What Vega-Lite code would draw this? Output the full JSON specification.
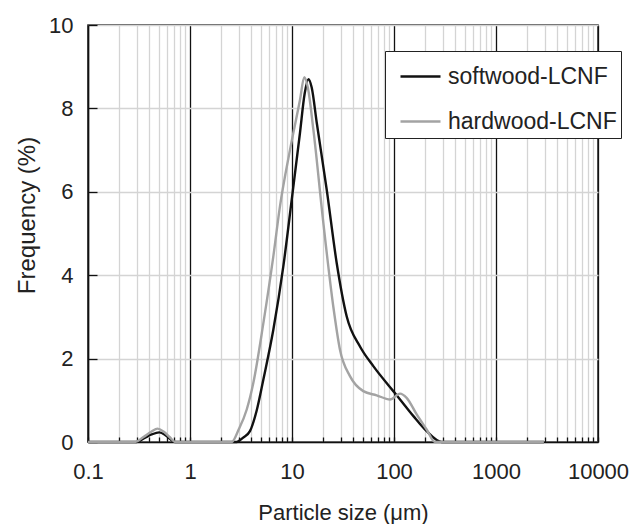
{
  "$schema": "https://vega.github.io/schema/vega-lite/v6.json",
  "width": 510,
  "height": 417,
  "autosize": {"type": "none"},
  "padding": {"left": 88, "top": 25, "right": 44, "bottom": 82},
  "background": "white",
  "config": {
    "font": "Liberation Sans",
    "view": {"stroke": "#222", "strokeWidth": 1.5},
    "axis": {
      "labelFontSize": 22,
      "labelColor": "#222",
      "titleFontSize": 22,
      "titleFontWeight": "normal",
      "titleColor": "#222",
      "domainColor": "#111",
      "domainWidth": 1.5,
      "tickColor": "#111",
      "tickWidth": 1.3,
      "gridWidth": 1.3
    }
  },
  "data": {
    "values": [
      {"sample": "softwood-LCNF", "size": 0.1, "freq": 0},
      {"sample": "softwood-LCNF", "size": 0.29, "freq": 0},
      {"sample": "softwood-LCNF", "size": 0.30, "freq": 0},
      {"sample": "softwood-LCNF", "size": 0.36, "freq": 0.1},
      {"sample": "softwood-LCNF", "size": 0.42, "freq": 0.18},
      {"sample": "softwood-LCNF", "size": 0.5, "freq": 0.23},
      {"sample": "softwood-LCNF", "size": 0.57, "freq": 0.17},
      {"sample": "softwood-LCNF", "size": 0.64, "freq": 0.07},
      {"sample": "softwood-LCNF", "size": 0.71, "freq": 0},
      {"sample": "softwood-LCNF", "size": 2.87, "freq": 0},
      {"sample": "softwood-LCNF", "size": 3.3, "freq": 0.1},
      {"sample": "softwood-LCNF", "size": 3.87, "freq": 0.26},
      {"sample": "softwood-LCNF", "size": 4.5, "freq": 0.75},
      {"sample": "softwood-LCNF", "size": 5.24, "freq": 1.5},
      {"sample": "softwood-LCNF", "size": 6.56, "freq": 2.69},
      {"sample": "softwood-LCNF", "size": 8.22, "freq": 4.21},
      {"sample": "softwood-LCNF", "size": 9.94, "freq": 5.81},
      {"sample": "softwood-LCNF", "size": 11.97, "freq": 7.41},
      {"sample": "softwood-LCNF", "size": 13.3, "freq": 8.35},
      {"sample": "softwood-LCNF", "size": 14.5, "freq": 8.7},
      {"sample": "softwood-LCNF", "size": 15.6, "freq": 8.5},
      {"sample": "softwood-LCNF", "size": 17.5, "freq": 7.65},
      {"sample": "softwood-LCNF", "size": 21.9, "freq": 6.05},
      {"sample": "softwood-LCNF", "size": 27.4, "freq": 4.3},
      {"sample": "softwood-LCNF", "size": 34.4, "freq": 3.01},
      {"sample": "softwood-LCNF", "size": 46.4, "freq": 2.29},
      {"sample": "softwood-LCNF", "size": 62.7, "freq": 1.82},
      {"sample": "softwood-LCNF", "size": 98.4, "freq": 1.22},
      {"sample": "softwood-LCNF", "size": 114.6, "freq": 1.02},
      {"sample": "softwood-LCNF", "size": 155, "freq": 0.62},
      {"sample": "softwood-LCNF", "size": 209, "freq": 0.26},
      {"sample": "softwood-LCNF", "size": 294, "freq": 0},
      {"sample": "softwood-LCNF", "size": 2950, "freq": 0},
      {"sample": "hardwood-LCNF", "size": 0.1, "freq": 0},
      {"sample": "hardwood-LCNF", "size": 0.29, "freq": 0},
      {"sample": "hardwood-LCNF", "size": 0.35, "freq": 0.12},
      {"sample": "hardwood-LCNF", "size": 0.42, "freq": 0.25},
      {"sample": "hardwood-LCNF", "size": 0.48, "freq": 0.32},
      {"sample": "hardwood-LCNF", "size": 0.55, "freq": 0.25},
      {"sample": "hardwood-LCNF", "size": 0.63, "freq": 0.12},
      {"sample": "hardwood-LCNF", "size": 0.72, "freq": 0},
      {"sample": "hardwood-LCNF", "size": 2.56, "freq": 0},
      {"sample": "hardwood-LCNF", "size": 3.0, "freq": 0.3},
      {"sample": "hardwood-LCNF", "size": 3.6, "freq": 0.78},
      {"sample": "hardwood-LCNF", "size": 4.18, "freq": 1.42},
      {"sample": "hardwood-LCNF", "size": 5.24, "freq": 2.85},
      {"sample": "hardwood-LCNF", "size": 6.56, "freq": 4.45},
      {"sample": "hardwood-LCNF", "size": 7.62, "freq": 5.65},
      {"sample": "hardwood-LCNF", "size": 9.55, "freq": 7.0},
      {"sample": "hardwood-LCNF", "size": 11.97, "freq": 8.2},
      {"sample": "hardwood-LCNF", "size": 13.2, "freq": 8.75},
      {"sample": "hardwood-LCNF", "size": 14.3, "freq": 8.5},
      {"sample": "hardwood-LCNF", "size": 16.2, "freq": 7.49},
      {"sample": "hardwood-LCNF", "size": 20.3, "freq": 5.25},
      {"sample": "hardwood-LCNF", "size": 25.4, "freq": 3.25},
      {"sample": "hardwood-LCNF", "size": 29.5, "freq": 2.22},
      {"sample": "hardwood-LCNF", "size": 37, "freq": 1.58},
      {"sample": "hardwood-LCNF", "size": 50, "freq": 1.22},
      {"sample": "hardwood-LCNF", "size": 67.6, "freq": 1.12},
      {"sample": "hardwood-LCNF", "size": 91.4, "freq": 1.02},
      {"sample": "hardwood-LCNF", "size": 114.6, "freq": 1.16},
      {"sample": "hardwood-LCNF", "size": 133, "freq": 1.06},
      {"sample": "hardwood-LCNF", "size": 167, "freq": 0.66},
      {"sample": "hardwood-LCNF", "size": 209, "freq": 0.3},
      {"sample": "hardwood-LCNF", "size": 252, "freq": 0},
      {"sample": "hardwood-LCNF", "size": 2950, "freq": 0}
    ]
  },
  "mark": {"type": "line", "strokeWidth": 2.4, "interpolate": "monotone"},
  "encoding": {
    "x": {
      "field": "size",
      "type": "quantitative",
      "scale": {"type": "log", "domain": [0.1, 10000], "nice": false},
      "axis": {
        "title": "Particle size (μm)",
        "values": [0.1, 0.2, 0.3, 0.4, 0.5, 0.6, 0.7, 0.8, 0.9, 1, 2, 3, 4, 5, 6, 7, 8, 9, 10, 20, 30, 40, 50, 60, 70, 80, 90, 100, 200, 300, 400, 500, 600, 700, 800, 900, 1000, 2000, 3000, 4000, 5000, 6000, 7000, 8000, 9000, 10000],
        "labelExpr": "indexof([0.1, 1, 10, 100, 1000, 10000], datum.value) >= 0 ? format(datum.value, '~g') : ''",
        "labelFlush": false,
        "labelOverlap": false,
        "grid": true,
        "gridColor": {"condition": {"test": "indexof([0.1, 1, 10, 100, 1000, 10000], datum.value) >= 0", "value": "#111"}, "value": "#d4d4d4"},
        "tickSize": -5,
        "labelPadding": 24,
        "titleBaseline": "alphabetic",
        "titleY": 77
      }
    },
    "y": {
      "field": "freq",
      "type": "quantitative",
      "scale": {"domain": [0, 10], "nice": false},
      "axis": {
        "title": "Frequency (%)",
        "values": [0, 2, 4, 6, 8, 10],
        "grid": true,
        "gridColor": "#d4d4d4",
        "tickSize": -9,
        "labelPadding": 24,
        "titleFontSize": 24,
        "titleX": -61,
        "titleY": 190,
        "titleAlign": "center",
        "titleBaseline": "middle"
      }
    },
    "color": {
      "field": "sample",
      "type": "nominal",
      "scale": {"domain": ["softwood-LCNF", "hardwood-LCNF"], "range": ["#111111", "#a3a3a3"]},
      "legend": {
        "orient": "none",
        "legendX": 297,
        "legendY": 26,
        "title": null,
        "symbolType": "stroke",
        "symbolSize": 1600,
        "symbolStrokeWidth": 2.5,
        "symbolOffset": 10,
        "labelFontSize": 23,
        "labelLimit": 400,
        "labelColor": "#222",
        "labelOffset": 6,
        "strokeColor": "#222",
        "fillColor": "white",
        "padding": 4,
        "rowPadding": 11
      }
    }
  }
}
